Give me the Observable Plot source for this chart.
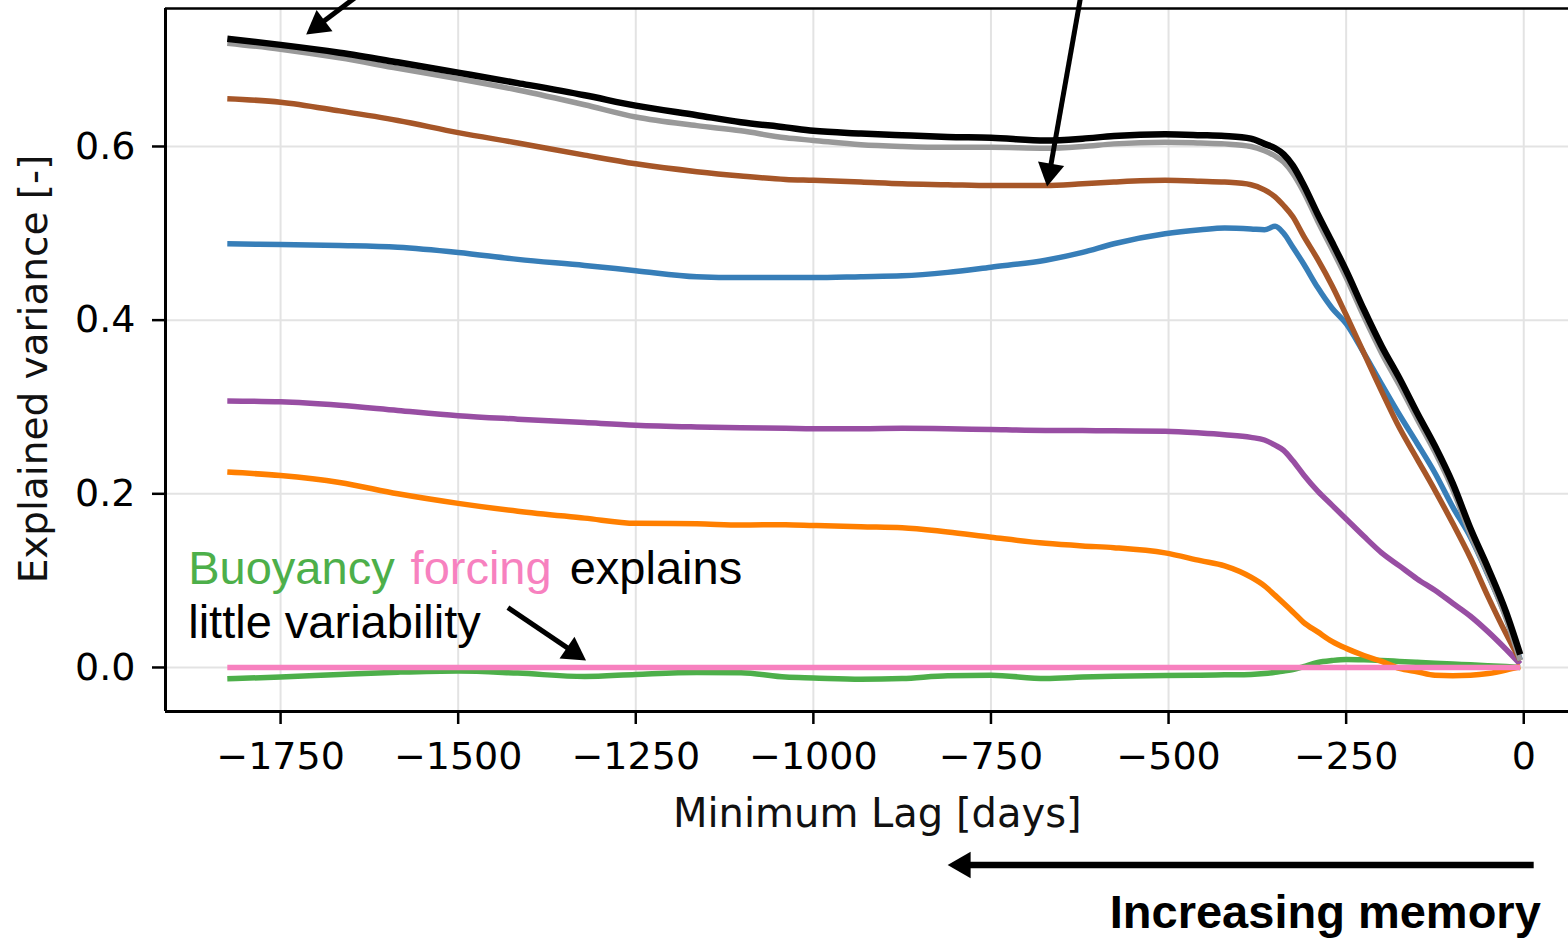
<!DOCTYPE html>
<html>
<head>
<meta charset="utf-8">
<script src="https://cdn.jsdelivr.net/npm/d3@7"></script>
<script src="https://cdn.jsdelivr.net/npm/@observablehq/plot@0.6"></script>
<style>
  html, body { margin: 0; padding: 0; background: white; overflow: hidden; }
  #chart { width: 1568px; height: 947px; }
</style>
</head>
<body>
<div id="chart"></div>
<script>
// ---- data ----
const lags = [-1825, -1750, -1667, -1585, -1500, -1416, -1322, -1250, -1164, -1102, -1039, -1000, -933, -875, -811, -750, -673, -621, -577, -505, -455, -421,
  -384, -365, -350, -338, -325, -310, -290, -270, -250, -225, -200, -175, -150, -125, -100, -75, -50, -25, -5];

const blackSeries = [0.724, 0.717, 0.708, 0.697, 0.685, 0.673, 0.659, 0.647, 0.636, 0.628, 0.622, 0.618, 0.615, 0.613, 0.611, 0.610, 0.607, 0.609, 0.612, 0.614, 0.613, 0.612,
  0.609, 0.603, 0.598, 0.591, 0.578, 0.556, 0.522, 0.490, 0.457, 0.412, 0.370, 0.333, 0.293, 0.255, 0.212, 0.160, 0.114, 0.064, 0.015];
const graySeries = [0.719, 0.712, 0.702, 0.690, 0.678, 0.665, 0.648, 0.634, 0.624, 0.618, 0.610, 0.607, 0.602, 0.600, 0.599, 0.599, 0.598, 0.600, 0.603, 0.605, 0.604, 0.603,
  0.600, 0.595, 0.589, 0.582, 0.569, 0.548, 0.514, 0.482, 0.449, 0.404, 0.362, 0.325, 0.286, 0.248, 0.205, 0.153, 0.107, 0.057, 0.008];
const brownSeries = [0.655, 0.651, 0.641, 0.630, 0.616, 0.604, 0.590, 0.580, 0.571, 0.566, 0.562, 0.561, 0.559, 0.557, 0.556, 0.555, 0.555, 0.557, 0.559, 0.561, 0.560, 0.559,
  0.556, 0.550, 0.542, 0.532, 0.519, 0.497, 0.470, 0.440, 0.406, 0.362, 0.318, 0.276, 0.240, 0.204, 0.166, 0.126, 0.081, 0.039, 0.008];
const blueSeries = [0.488, 0.487, 0.486, 0.484, 0.478, 0.470, 0.463, 0.457, 0.450, 0.449, 0.449, 0.449, 0.450, 0.451, 0.455, 0.461, 0.469, 0.478, 0.488, 0.4995, 0.504, 0.506,
  0.505, 0.504, 0.508, 0.500, 0.484, 0.465, 0.4375, 0.414, 0.396, 0.362, 0.326, 0.291, 0.258, 0.224, 0.185, 0.150, 0.106, 0.058, 0.009];
const purpleSeries = [0.307, 0.306, 0.302, 0.296, 0.290, 0.286, 0.282, 0.279, 0.277, 0.276, 0.2755, 0.275, 0.275, 0.2755, 0.275, 0.274, 0.273, 0.273, 0.2725, 0.272, 0.270, 0.268,
  0.265, 0.262, 0.256, 0.250, 0.238, 0.222, 0.203, 0.187, 0.171, 0.151, 0.132, 0.117, 0.102, 0.089, 0.074, 0.059, 0.041, 0.021, 0.004];
const orangeSeries = [0.225, 0.221, 0.213, 0.200, 0.189, 0.180, 0.172, 0.166, 0.1655, 0.164, 0.1645, 0.1635, 0.162, 0.161, 0.156, 0.150, 0.143, 0.140, 0.138, 0.132, 0.123, 0.117,
  0.104, 0.094, 0.083, 0.074, 0.064, 0.052, 0.041, 0.030, 0.022, 0.0138, 0.007, -0.001, -0.005, -0.009, -0.0095, -0.009, -0.007, -0.003, 0.001];
const greenSeries = [-0.013, -0.011, -0.008, -0.0054, -0.004, -0.0065, -0.0104, -0.008, -0.0058, -0.006, -0.011, -0.012, -0.0135, -0.0127, -0.0095, -0.009, -0.0127, -0.011, -0.010, -0.0092, -0.009, -0.0085,
  -0.008, -0.007, -0.0055, -0.004, -0.0025, 0.001, 0.0058, 0.008, 0.0092, 0.0088, 0.008, 0.007, 0.006, 0.005, 0.004, 0.003, 0.002, 0.001, 0.0];
const pinkSeries = lags.map(() => 0);

const xTicks = [-1750, -1500, -1250, -1000, -750, -500, -250, 0];
const yTicks = [0, 0.2, 0.4, 0.6];

const xLabel = "Minimum Lag [days]";
const yLabel = "Explained variance [-]";
const noteWords = [
  {text: "Buoyancy", color: "#4daf4a", lag: -1880},
  {text: "forcing", color: "#f781bf", lag: -1567},
  {text: "explains", color: "#000000", lag: -1343}
];
const noteLine2 = {text: "little variability", lag: -1880};
const memoryText = "Increasing memory";

// annotation arrows: start (x1, y1) and tip (x2, y2) in data units
const arrows = [
  {x1: -1623, y1: 0.785, x2: -1714, y2: 0.729, w: 5},
  {x1: -621,  y1: 0.785, x2: -671,  y2: 0.554, w: 5},
  {x1: -1430, y1: 0.069, x2: -1320, y2: 0.008, w: 5},
  {x1: 14,    y1: -0.2275, x2: -811, y2: -0.2275, w: 6.5}
];

// ---- layout ----
const W = 1568, H = 947;
const mL = 165, mR = 0, mT = 8, mB = 236;
const xDomain = [-1912, 63];
const yDomain = [-0.0507, 0.7589];

const xs = d3.scaleLinear().domain(xDomain).range([mL, W - mR]);
const ys = d3.scaleLinear().domain(yDomain).range([H - mB, mT]);

const series = [
  {name: "blue", color: "#377eb8", width: 5.5, values: blueSeries},
  {name: "green", color: "#4daf4a", width: 5.5, values: greenSeries},
  {name: "purple", color: "#984ea3", width: 5.5, values: purpleSeries},
  {name: "orange", color: "#ff7f00", width: 5.5, values: orangeSeries},
  {name: "brown", color: "#a65628", width: 5.5, values: brownSeries},
  {name: "pink", color: "#f781bf", width: 5.5, values: pinkSeries},
  {name: "gray", color: "#999999", width: 5.5, values: graySeries},
  {name: "black", color: "#000000", width: 6.5, values: blackSeries}
];

const lineMarks = series.map(s =>
  Plot.line(lags.map((l, i) => ({lag: l, v: s.values[i]})), {
    x: "lag", y: "v", stroke: s.color, strokeWidth: s.width,
    curve: "monotone-x", strokeLinejoin: "round", strokeLinecap: "butt"
  })
);

const headH = 23;
const headR = Math.sqrt(Math.sqrt(3) * headH * headH / (3 * Math.PI));
const arrowMarks = arrows.flatMap(a => {
  const px1 = xs(a.x1), py1 = ys(a.y1), px2 = xs(a.x2), py2 = ys(a.y2);
  const dx = px2 - px1, dy = py2 - py1, len = Math.hypot(dx, dy);
  const ux = dx / len, uy = dy / len;
  const cx = px2 - ux * headH * 2 / 3, cy = py2 - uy * headH * 2 / 3;
  const rot = Math.atan2(dx, -dy) * 180 / Math.PI;
  const headPt = {x: xs.invert(cx), y: ys.invert(cy)};
  return [
    Plot.link([a], {x1: "x1", y1: "y1", x2: () => headPt.x, y2: () => headPt.y,
      stroke: "black", strokeWidth: a.w, strokeLinecap: "butt"}),
    Plot.dot([headPt], {x: "x", y: "y", symbol: "triangle", r: headR, fill: "black",
      stroke: "none", rotate: rot})
  ];
});

const fmtX = d => String(d).replace("-", "\u2212");
const fmtY = d3.format(".1f");
const annoFont = "Liberation Sans, Arial, sans-serif";

const plot = Plot.plot({
  width: W, height: H,
  marginLeft: mL, marginRight: mR, marginTop: mT, marginBottom: mB,
  x: {domain: xDomain},
  y: {domain: yDomain},
  style: {fontFamily: "DejaVu Sans", fontSize: "38px", background: "white", color: "black", overflow: "visible"},
  marks: [
    Plot.ruleX(xTicks, {stroke: "#e3e3e3", strokeWidth: 2}),
    Plot.ruleY(yTicks, {stroke: "#e3e3e3", strokeWidth: 2}),
    ...lineMarks,
    Plot.ruleX([xDomain[0]], {stroke: "black", strokeWidth: 3}),
    Plot.ruleY([yDomain[0]], {stroke: "black", strokeWidth: 3}),
    Plot.ruleY([yDomain[1]], {stroke: "black", strokeWidth: 2.5}),
    Plot.axisX({ticks: xTicks, tickFormat: fmtX, tickSize: 13, tickPadding: 18, strokeWidth: 2.5, fontSize: 38, label: null}),
    Plot.axisY({ticks: yTicks, tickFormat: fmtY, tickSize: 13, tickPadding: 17, strokeWidth: 2.5, fontSize: 38, label: null}),
    Plot.text([xLabel], {x: () => -910, frameAnchor: "bottom", dy: 115, text: d => d, fontSize: 40, fontFamily: "DejaVu Sans", fill: "#111"}),
    Plot.text([yLabel], {frameAnchor: "left", textAnchor: "middle", dx: -131, dy: 9, rotate: -90, text: d => d, fontSize: 39, fontFamily: "DejaVu Sans", fill: "#111"}),
    ...noteWords.map(w => Plot.text([w], {x: "lag", y: () => 0.114, text: "text", fill: w.color, textAnchor: "start",
      fontSize: 47, fontFamily: annoFont})),
    Plot.text([noteLine2], {x: "lag", y: () => 0.0507, text: "text", fill: "black", textAnchor: "start",
      fontSize: 47, fontFamily: annoFont}),
    Plot.text([memoryText], {x: () => 24, frameAnchor: "bottom", dy: 216, text: d => d, textAnchor: "end",
      fontSize: 47, fontWeight: "bold", fontFamily: annoFont, fill: "black"}),
    ...arrowMarks
  ]
});
document.getElementById("chart").appendChild(plot);
</script>
</body>
</html>
